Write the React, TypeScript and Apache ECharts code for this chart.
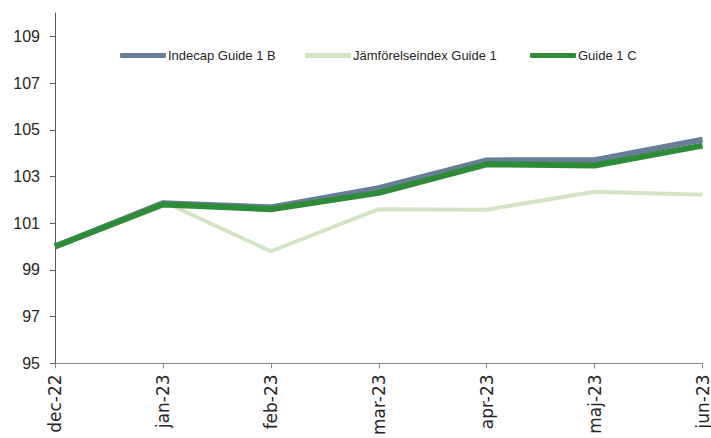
import React, { useEffect, useRef } from "react";
import * as echarts from "echarts";

const categories = ["dec-22", "jan-23", "feb-23", "mar-23", "apr-23", "maj-23", "jun-23"];
const seriesNames = ["Indecap Guide 1 B", "Jämförelseindex Guide 1", "Guide 1 C"];
const guide1B = [100, 101.85, 101.68, 102.5, 103.69, 103.7, 104.58];
const jamforelse = [100, 101.93, 99.8, 101.6, 101.58, 102.35, 102.22];
const guide1C = [100, 101.8, 101.6, 102.3, 103.52, 103.47, 104.32];
const yTicks = [95, 97, 99, 101, 103, 105, 107, 109];

const colors = ["#687d96", "#d3e4c4", "#2e8b38"];
const sans = "'Liberation Sans', Arial, sans-serif";

export default function App() {
  const ref = useRef<HTMLDivElement>(null);
  useEffect(() => {
    if (!ref.current) return;
    const chart = echarts.init(ref.current, null, { renderer: "svg" });
    const legendLefts = [120, 305, 530];
    chart.setOption({
      animation: false,
      backgroundColor: "#ffffff",
      grid: { left: 55, right: 6, top: 13, bottom: 72 },
      legend: seriesNames.map((n, i) => ({
        data: [n],
        left: legendLefts[i],
        top: 49,
        icon: "roundRect",
        itemWidth: 46,
        itemHeight: 5,
        itemGap: 0,
        padding: 0,
        textStyle: { fontFamily: sans, fontSize: 13, color: "#262626", padding: [0, 0, 0, -3] },
      })),
      xAxis: {
        type: "category",
        data: categories,
        boundaryGap: false,
        axisLine: { lineStyle: { color: "#868686", width: 1 } },
        axisTick: { show: true, length: 5, lineStyle: { color: "#868686" } },
        axisLabel: {
          rotate: 90,
          margin: 11,
          fontFamily: "'DejaVu Sans', Verdana, sans-serif",
          fontSize: 17,
          color: "#262626",
          interval: 0,
        },
        splitLine: { show: false },
      },
      yAxis: {
        type: "value",
        min: 95,
        max: 110,
        interval: 2,
        axisLine: { show: true, lineStyle: { color: "#595959", width: 1 } },
        axisTick: { show: true, length: 5, lineStyle: { color: "#595959" }, customValues: yTicks },
        axisLabel: {
          margin: 15,
          fontFamily: sans,
          fontSize: 16,
          color: "#262626",
          customValues: yTicks,
        },
        splitLine: { show: false },
      },
      series: [
        {
          name: seriesNames[1],
          type: "line",
          data: jamforelse,
          symbol: "none",
          lineStyle: { color: colors[1], width: 4 },
          itemStyle: { color: colors[1] },
          z: 1,
        },
        {
          name: seriesNames[0],
          type: "line",
          data: guide1B,
          symbol: "none",
          lineStyle: { color: colors[0], width: 6 },
          itemStyle: { color: colors[0] },
          z: 2,
        },
        {
          name: seriesNames[2],
          type: "line",
          data: guide1C,
          symbol: "none",
          lineStyle: { color: colors[2], width: 6 },
          itemStyle: { color: colors[2] },
          z: 3,
        },
      ],
    });
    return () => chart.dispose();
  }, []);
  return <div ref={ref} style={{ width: 711, height: 438, position: "absolute", left: 0, top: 0 }} />;
}
